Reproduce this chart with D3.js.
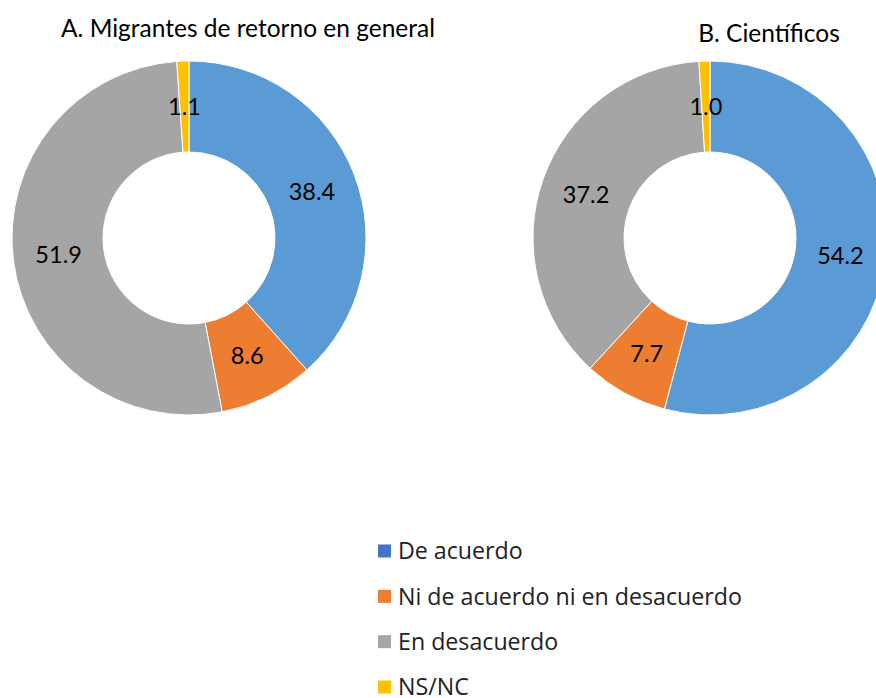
<!DOCTYPE html>
<html><head><meta charset="utf-8">
<script src="https://cdn.jsdelivr.net/npm/d3@7"></script>
<style>body{margin:0;background:#fff;overflow:hidden}</style>
</head><body>
<svg id="c" width="876" height="698"></svg>
<script>
const categories = ["De acuerdo", "Ni de acuerdo ni en desacuerdo", "En desacuerdo", "NS/NC"];
const valuesA = [38.4, 8.6, 51.9, 1.1];
const valuesB = [54.2, 7.7, 37.2, 1.0];
const titles = ["A. Migrantes de retorno en general", "B. Científicos"];
const sliceColors = ["#5B9BD5", "#ED7D31", "#A5A5A5", "#FFC000"];
const legendColors = ["#4472C4", "#ED7D31", "#A5A5A5", "#FFC000"];

const svg = d3.select("#c");
const R = 177, r = 86;
const pie = d3.pie().sort(null).value(d => d);
const arc = d3.arc().innerRadius(r).outerRadius(R);
const labelArc = d3.arc().innerRadius((R + r) / 2).outerRadius((R + r) / 2);
const color = d3.scaleOrdinal().domain(categories).range(sliceColors);

const charts = [
  {vals: valuesA, cx: 189, cy: 238, title: titles[0], tx: 248, ty: 37},
  {vals: valuesB, cx: 710, cy: 238, title: titles[1], tx: 769, ty: 42}
];
charts.forEach(c => {
  const g = svg.append("g").attr("transform", `translate(${c.cx},${c.cy})`);
  const data = pie(c.vals).map((d, i) => Object.assign(d, {cat: categories[i]}));
  g.selectAll("path").data(data).enter().append("path")
    .attr("d", arc).attr("fill", d => color(d.cat))
    .attr("stroke", "#fff").attr("stroke-width", 1);
  g.selectAll("text").data(data).enter().append("text")
    .attr("transform", d => `translate(${labelArc.centroid(d)})`)
    .attr("text-anchor", "middle").attr("dy", "0.36em")
    .style("font-family", "Lato, 'Open Sans', sans-serif").style("font-size", "23.5px")
    .attr("fill", "#000").text(d => d.data.toFixed(1));
  svg.append("text").attr("x", c.tx).attr("y", c.ty).attr("text-anchor", "middle")
    .style("font-family", "Lato, 'Open Sans', sans-serif").style("font-size", "24.5px")
    .attr("fill", "#000").text(c.title);
});

const legend = svg.append("g");
const ly = d3.scalePoint().domain(categories).range([551, 687]);
categories.forEach((cat, i) => {
  legend.append("rect").attr("x", 378).attr("y", ly(cat) - 6.5).attr("width", 13).attr("height", 13)
    .attr("fill", legendColors[i]);
  legend.append("text").attr("x", 398).attr("y", ly(cat)).attr("dy", "0.36em")
    .style("font-family", "'Open Sans', sans-serif").style("font-size", "23.2px")
    .attr("fill", "#222").text(cat);
});
</script>
</body></html>
